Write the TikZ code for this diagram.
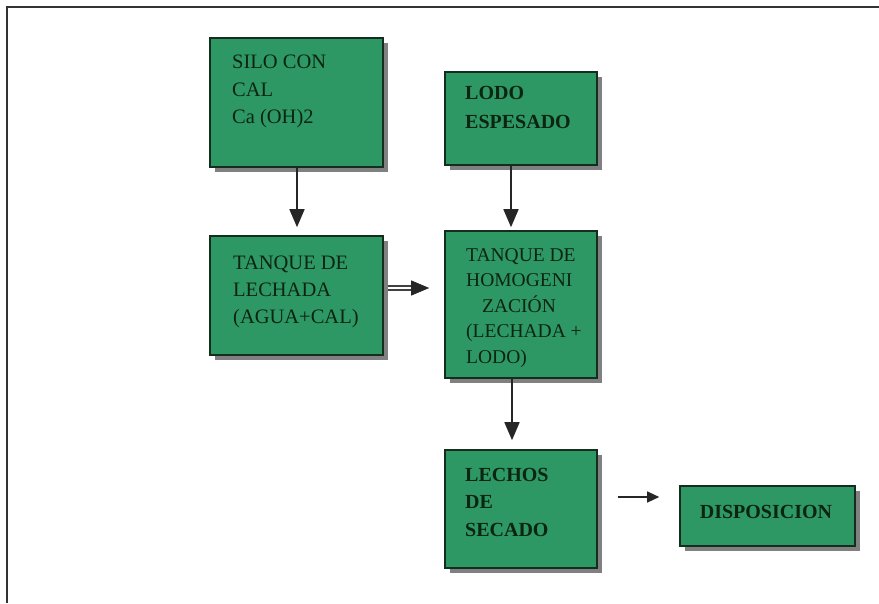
\documentclass[tikz,border=0pt]{standalone}
\usepackage{fontspec}
\setmainfont{Liberation Serif}
\usetikzlibrary{arrows.meta,shadows}
\definecolor{boxgreen}{RGB}{46,152,100}
\definecolor{boxedge}{RGB}{20,45,30}
\definecolor{txt}{RGB}{12,36,18}
\begin{document}
\begin{tikzpicture}[x=1pt,y=-1pt,
  box/.style={rectangle,draw=boxedge,line width=1.6pt,fill=boxgreen,inner sep=0pt,
    drop shadow={shadow xshift=5pt,shadow yshift=-5pt,fill=black!50,opacity=1}},
  lbl/.style={anchor=north west,inner sep=0pt,align=left,text=txt},
  arr/.style={draw=black!85,line width=1.6pt,-{Triangle[length=18pt,width=15pt]}},
  thinarr/.style={draw=black!85,line width=1.2pt,-{Triangle[length=12pt,width=11pt]}}]
\useasboundingbox (0,0) rectangle (879,603);
\fill[white] (0,0) rectangle (879,603);
\draw[black!80,line width=1.6pt] (879,7) -- (7,7) -- (7,603);

\node[box,minimum width=173pt,minimum height=129pt] (silo) at (296.5,102.5) {};
\node[box,minimum width=152pt,minimum height=93pt] (lodo) at (521,118.5) {};
\node[box,minimum width=173pt,minimum height=119pt] (lech) at (296.5,295.5) {};
\node[box,minimum width=152pt,minimum height=147pt] (homo) at (521,304.5) {};
\node[box,minimum width=152pt,minimum height=118pt] (secado) at (521,509) {};
\node[box,minimum width=175pt,minimum height=60pt] (disp) at (767.5,516) {};

\node[lbl,font=\fontsize{20.5}{27.5}\selectfont] (tsilo) at (232,55) {SILO CON\\CAL\\Ca (OH)2};
\node[lbl,font=\bfseries\fontsize{20}{29}\selectfont] (tlodo) at (465,86) {LODO\\ESPESADO};
\node[lbl,font=\fontsize{20.5}{27}\selectfont] (tlech) at (233,256) {TANQUE DE\\LECHADA\\(AGUA+CAL)};
\node[lbl,font=\fontsize{19.5}{25.5}\selectfont] (thomo) at (466,248) {TANQUE DE\\HOMOGENI\\\hspace*{16pt}ZACIÓN\\(LECHADA +\\LODO)};
\node[lbl,font=\bfseries\fontsize{20}{27.5}\selectfont] (tsecado) at (465,468) {LECHOS\\DE\\SECADO};
\node[anchor=center,inner sep=0pt,text=txt,font=\bfseries\fontsize{20}{24}\selectfont] (tdisp) at (766,512) {DISPOSICION};

\draw[arr,shorten >=8pt] ([xshift=0.5pt]silo.south) -- ([xshift=0.5pt]lech.north);
\draw[arr,shorten >=3pt] ([xshift=-10pt]lodo.south) -- ([xshift=-10pt]homo.north);
\draw[arr,shorten >=9pt] ([xshift=-9pt]homo.south) -- ([xshift=-9pt]secado.north);

\coordinate (a2) at ([yshift=7.5pt]lech.east);
\draw[black!75,line width=1.8pt,double=white,double distance=2pt,shorten <=4pt,shorten >=31pt] (a2) -- (a2 -| homo.west);
\draw[draw=black!85,line width=0.8pt,-{Triangle[length=18pt,width=15pt]},shorten <=27pt,shorten >=15pt] (a2) -- (a2 -| homo.west);

\coordinate (a1) at ([yshift=12pt]secado.east);
\draw[thinarr,shorten <=20pt,shorten >=20pt] (a1) -- (a1 -| disp.west);
\end{tikzpicture}
\end{document}
